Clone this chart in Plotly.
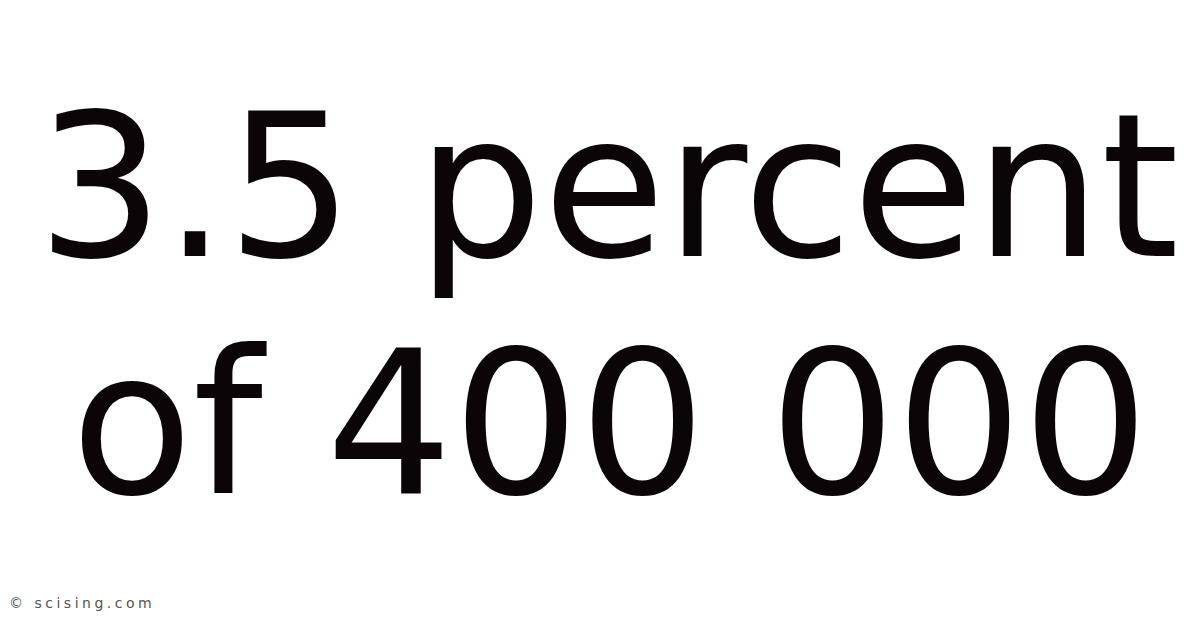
import plotly.graph_objects as go

lines = ["3.5 percent", "of 400 000"]
line_y = [0.715, 0.337]
line_x = [0.5, 0.502]
watermark = "© scising.com"

fig = go.Figure()

for txt, xx, yy in zip(lines, line_x, line_y):
    fig.add_annotation(
        text=txt, x=xx, y=yy, xref="paper", yref="paper",
        xanchor="center", yanchor="middle", showarrow=False,
        font=dict(family="DejaVu Sans", size=199, color="#0c0507"),
    )

# watermark is drawn with a little extra letter spacing, like the original
spaced = "\u2005".join(watermark)
fig.add_annotation(
    text=spaced, x=0.0, y=1 - 601 / 628, xref="paper", yref="paper",
    xanchor="left", yanchor="middle", showarrow=False, yshift=6,
    borderpad=0,
    font=dict(family="DejaVu Sans", size=14, color="#555555"),
)

fig.update_layout(
    width=1200, height=628,
    margin=dict(l=0, r=0, t=0, b=0),
    paper_bgcolor="white", plot_bgcolor="white",
    xaxis=dict(visible=False), yaxis=dict(visible=False),
    showlegend=False,
)

fig.write_html("out.html")
